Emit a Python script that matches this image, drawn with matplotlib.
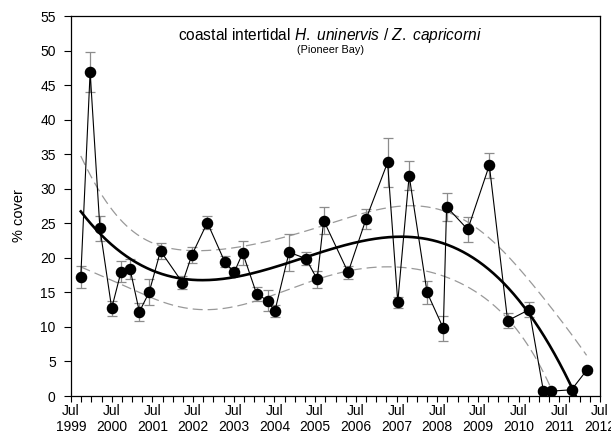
import numpy as np
import matplotlib
matplotlib.use("Agg")
import matplotlib.pyplot as plt
from matplotlib.ticker import MultipleLocator, FixedLocator

plt.rcParams['font.family'] = ['Liberation Sans', 'DejaVu Sans']
plt.rcParams['mathtext.fontset'] = 'custom'
plt.rcParams['mathtext.rm'] = 'Liberation Sans'
plt.rcParams['mathtext.it'] = 'Liberation Sans:italic'

# decimal year of each survey
dates = [1999.74, 1999.97, 2000.21, 2000.50, 2000.73, 2000.95, 2001.18, 2001.42,
         2001.70, 2002.24, 2002.47, 2002.85, 2003.28, 2003.51, 2003.72, 2004.06,
         2004.33, 2004.51, 2004.86, 2005.27, 2005.55, 2005.71, 2006.31, 2006.75,
         2007.28, 2007.53, 2007.81, 2008.25, 2008.65, 2008.73, 2009.25, 2009.78,
         2010.23, 2010.76, 2011.11, 2011.29, 2011.80, 2012.17]
cover = [17.2, 46.9, 24.3, 12.7, 18.0, 18.4, 12.2, 15.0, 21.0, 16.4, 20.4, 25.1,
         19.4, 17.9, 20.7, 14.8, 13.8, 12.3, 20.8, 19.9, 16.9, 25.4, 17.9, 25.6,
         33.8, 13.6, 31.9, 15.0, 9.8, 27.4, 24.1, 33.4, 10.9, 12.5, 0.7, 0.7, 0.9, 3.7]
se = [1.6, 2.9, 1.8, 1.1, 1.5, 1.5, 1.3, 1.9, 1.2, 0.9, 1.2, 0.95, 0.8, 0.6, 1.7,
      1.0, 1.5, 0.8, 2.65, 1.0, 1.2, 1.9, 0.9, 1.4, 3.5, 0.8, 2.1, 1.7, 1.8, 2.0,
      1.8, 1.8, 1.1, 1.1, 0.3, 0.3, 0.3, 0.3]

year_ticks = list(range(1999, 2013))
tick_labels = [f"Jul\n{y}" for y in year_ticks]

x = np.array(dates)
y = np.array(cover)

# cubic regression with 95% confidence band
xm = x.mean()
deg = 3
X = np.vander(x - xm, deg + 1)
beta, *_ = np.linalg.lstsq(X, y, rcond=None)
resid = y - X @ beta
dof = len(x) - (deg + 1)
s2 = resid @ resid / dof
XtX_inv = np.linalg.inv(X.T @ X)
xf = np.linspace(x.min(), x.max(), 300)
Xf = np.vander(xf - xm, deg + 1)
yf = Xf @ beta
se_fit = np.sqrt(s2 * np.einsum('ij,jk,ik->i', Xf, XtX_inv, Xf))
tcrit = 2.032
upper = yf + tcrit * se_fit
lower = yf - tcrit * se_fit

fig = plt.figure(figsize=(6.11, 4.36), dpi=100)
ax = fig.add_axes([71/611, 40/436, 529/611, 380/436])

ax.plot(xf, upper, color='#999999', lw=0.9, dashes=(8, 4), zorder=1)
ax.plot(xf, lower, color='#999999', lw=0.9, dashes=(8, 4), zorder=1)
ax.errorbar(x, y, yerr=se, fmt='none', ecolor='#8c8c8c', elinewidth=0.9,
            capsize=3.6, capthick=0.9, zorder=2)
ax.plot(x, y, color='black', lw=0.8, marker='o', markersize=7.3,
        markerfacecolor='black', markeredgecolor='black', zorder=3)
ax.plot(xf, yf, color='black', lw=1.9, zorder=4)

ax.set_xlim(1999.5, 2012.5)
ax.set_ylim(0, 55)
ax.xaxis.set_major_locator(FixedLocator([yy + 0.5 for yy in year_ticks]))
ax.set_xticklabels(tick_labels, linespacing=1.15)
ax.xaxis.set_minor_locator(MultipleLocator(0.25))
ax.yaxis.set_major_locator(MultipleLocator(5))
ax.tick_params(axis='x', which='both', direction='out', length=4, width=0.8,
               top=False, labelsize=10, pad=2)
ax.tick_params(axis='y', which='major', direction='out', length=5, width=0.8,
               right=False, labelsize=10, pad=6)
ax.set_ylabel('% cover', fontsize=10.5)
ax.yaxis.set_label_coords(-0.085, 0.475)
for sp in ax.spines.values():
    sp.set_linewidth(0.9)

ax.text(0.49, 0.948, 'coastal intertidal $\\mathit{H.\\ uninervis\\ /\\ Z.\\ capricorni}$',
        transform=ax.transAxes, ha='center', va='center', fontsize=11.2)
ax.text(0.49, 0.91, '(Pioneer Bay)', transform=ax.transAxes, ha='center',
        va='center', fontsize=7.8)

fig.savefig('out.png', dpi=100)
